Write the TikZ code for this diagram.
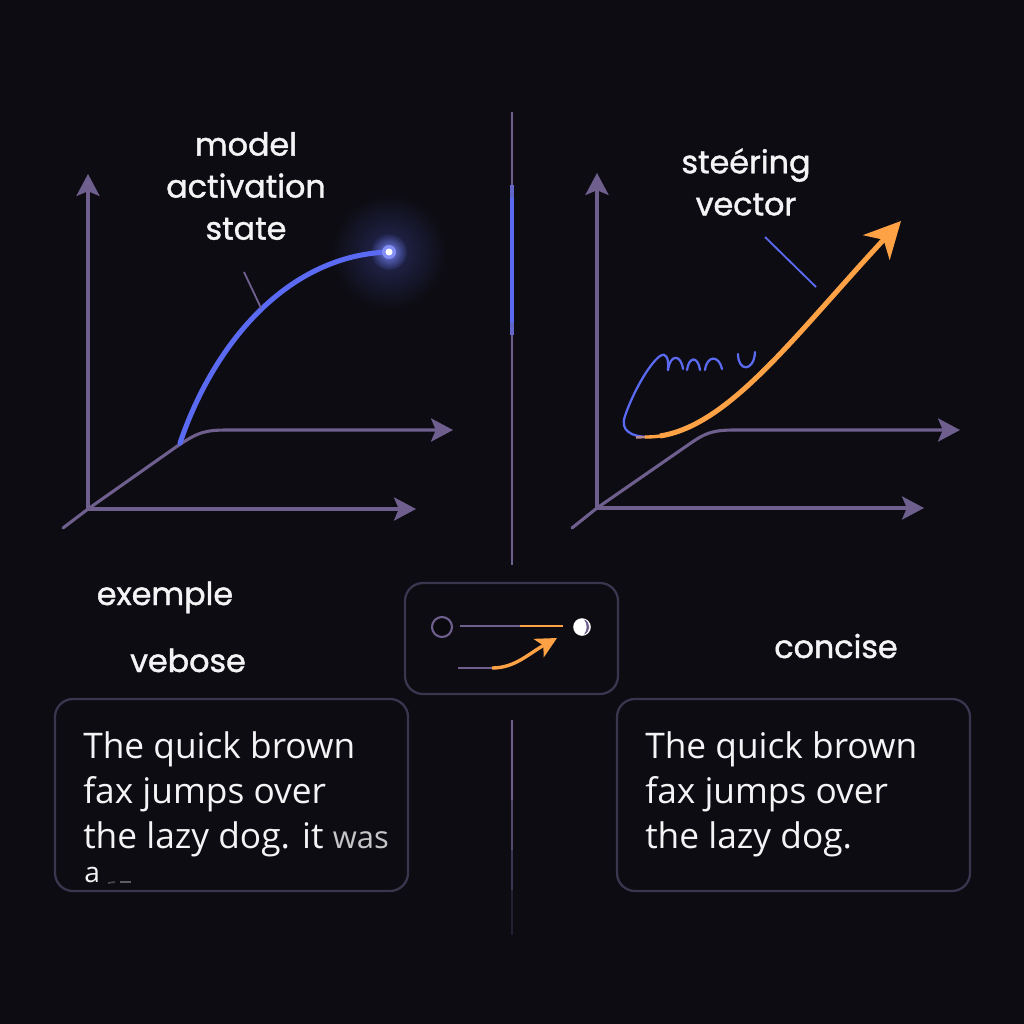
\documentclass[tikz,border=0pt]{standalone}
\usepackage{fontspec}
\setmainfont{Poppins}
\newfontfamily\lblfont{Poppins}[FakeBold=1.3]
\newfontfamily\boxfont{Open Sans}
\usetikzlibrary{arrows.meta}
\definecolor{bg}{HTML}{0D0C12}
\definecolor{axis}{HTML}{6E5F8E}
\definecolor{frame}{HTML}{3C3550}
\definecolor{vblue}{HTML}{5A6AF2}
\definecolor{vorange}{HTML}{FFA245}
\definecolor{txt}{HTML}{F4F4F6}
\tikzset{
  axisline/.style={draw=axis, line width=2.2pt, -{Stealth[length=5.5mm,width=5.8mm,inset=1.2mm]}},
  axisplain/.style={draw=axis, line width=2.2pt, line cap=round},
  lbl/.style={text=txt, font=\lblfont\fontsize{22.6}{29.9}\selectfont, align=center, inner sep=0pt},
  boxtxt/.style={text=txt, font=\boxfont\fontsize{25.1}{32}\selectfont, inner sep=0pt, anchor=base west},
  panel/.style={draw=frame, line width=1.6pt, rounded corners=4.5mm, fill=bg},
  squig/.style={draw=vblue, line width=1.6pt, line cap=round},
}
\begin{document}
\begin{tikzpicture}[x=0.25mm, y=-0.25mm]
\fill[bg] (0,0) rectangle (1024,1024);
\useasboundingbox (0,0) rectangle (1024,1024);

% central divider
\coordinate (d1) at (512,112);
\coordinate (d2) at (512,565);
\draw[axis, line width=2pt] (d1) -- (d2);
\draw[vblue!60!axis, line width=2.2pt] (512,185) -- (512,335);
\draw[vblue, line width=2.2pt] (512,198) -- (512,322);
\foreach \ya/\yb/\op in {720/800/1, 800/850/0.75, 850/890/0.5, 890/935/0.25}{
  \draw[axis, line width=2pt, opacity=\op] (512,\ya) -- (512,\yb);
}

% ---------- left chart ----------
\coordinate (lo) at (88,509);
\coordinate (ly) at (88,174);
\coordinate (lx) at (416,509);
\coordinate (lt) at (63,528);
\coordinate (lx2) at (453,430);
\draw[axisline] (lo) -- (ly);
\draw[axisline] (lo) -- (lx);
\draw[axisplain] (lt) -- (lo);
\draw[axisline] (lo) -- (176,447) .. controls (198,432) and (205,430) .. (228,430) -- (lx2);

% glow
\coordinate (glow) at (389,252);
\shade[inner color=vblue!30!bg, outer color=bg] (glow) circle (58);
\shade[inner color=vblue!85!white, outer color=vblue!25!bg] (glow) circle (18);
\draw[vblue, line width=3.6pt, line cap=round] (180,443) .. controls (215,340) and (290,255) .. (glow);
\fill[vblue!75!white] (glow) circle (7);
\fill[white] (glow) circle (3.5);
\draw[axis, line width=1.3pt] (244,272) -- (261,308);

\node[lbl] (lab1) at (246,186) {model\\activation\\state};

% ---------- right chart ----------
\coordinate (ro) at (597,508);
\coordinate (ry) at (597,173);
\coordinate (rx) at (924,508);
\coordinate (rt) at (572,528);
\coordinate (rx2) at (960,430);
\draw[axisline] (ro) -- (ry);
\draw[axisline] (ro) -- (rx);
\draw[axisplain] (rt) -- (ro);
\draw[axisline] (ro) -- (688,445) .. controls (705,433) and (712,430) .. (735,430) -- (rx2);

% blue loop with squiggle
\draw[squig]
  (650,437) .. controls (630,437) and (620,430) .. (625,416)
  .. controls (632,395) and (648,365) .. (660,356)
  .. controls (666,352) and (669,358) .. (668,370);
\draw[squig]
  (668,370) .. controls (670,354) and (681,354) .. (683,369)
  (687,370) .. controls (689,356) and (698,356) .. (700,370)
  (705,370) .. controls (707,355) and (719,355) .. (722,369)
  (738,354) .. controls (738,372) and (754,372) .. (755,352);
% orange steering arrow
\coordinate (sv) at (901,221);
\draw[vorange!55!vblue, line width=1.8pt] (636,437.5) -- (646,437);
\draw[vorange, line width=2.4pt] (645,437) .. controls (655,437) and (662,436) .. (670,434);
\draw[vorange, line width=3.6pt, -{Stealth[length=9mm,width=9mm,inset=2.6mm]}]
  (660,436) .. controls (730,425) and (795,335) .. (sv);
\draw[vblue, line width=1.3pt] (765,237) -- (816,287);

\node[lbl] (lab2) at (746,182) {ste\'ering\\vector};

% ---------- labels ----------
\node[lbl, anchor=base] (ex) at (165,605) {exemple};
\node[lbl, anchor=base] (vb) at (188,672) {vebose};
\node[lbl, anchor=base] (cc) at (836,658) {concise};

% ---------- middle toggle box ----------
\draw[panel] (405,583) rectangle (618,694);
\node[draw=axis, fill=bg!80!black, line width=1.5pt, circle, minimum size=5mm, inner sep=0pt] (c1) at (442,627) {};
\coordinate (m1) at (460,626);
\coordinate (m2) at (520,626);
\coordinate (m3) at (563,626);
\draw[axis, line width=1.6pt] (m1) -- (m2);
\draw[vorange, line width=1.6pt] (m2) -- (m3);
\node[fill=white, circle, minimum size=4.4mm, inner sep=0pt] (c2) at (582,627) {};
\fill[axis] (584,619.5) .. controls (591,622) and (591,632) .. (584,634.5) .. controls (587.5,630) and (587.5,624) .. (584,619.5);
\coordinate (a1) at (458,668);
\coordinate (a2) at (492,668);
\coordinate (a3) at (557,638);
\draw[axis, line width=1.6pt] (a1) -- (a2);
\draw[vorange, line width=2.4pt, -{Stealth[length=5.2mm,width=5.2mm,inset=1.3mm]}] (a2) .. controls (515,668) and (528,654) .. (a3);

% ---------- text boxes ----------
\draw[panel] (55,699) rectangle (408,891);
\draw[panel] (617,699) rectangle (970,891);

\node[boxtxt] (l1) at (83,758) {The quick brown};
\node[boxtxt] (l2) at (83,803) {fax jumps over};
\node[boxtxt] (l3) at (83,848) {the lazy dog. it {\color{txt!80!bg}\fontsize{22}{30}\selectfont was}};
\node[boxtxt, font=\boxfont\fontsize{20}{30}\selectfont] (l4) at (84,882) {a};
\draw[txt!25!bg, line width=1.2pt] (108,883) -- (115,882);
\draw[txt!35!bg, line width=1.2pt] (120,882) -- (131,882);

\node[boxtxt] (r1) at (645,758) {The quick brown};
\node[boxtxt] (r2) at (645,803) {fax jumps over};
\node[boxtxt] (r3) at (645,848) {the lazy dog.};
\end{tikzpicture}
\end{document}
